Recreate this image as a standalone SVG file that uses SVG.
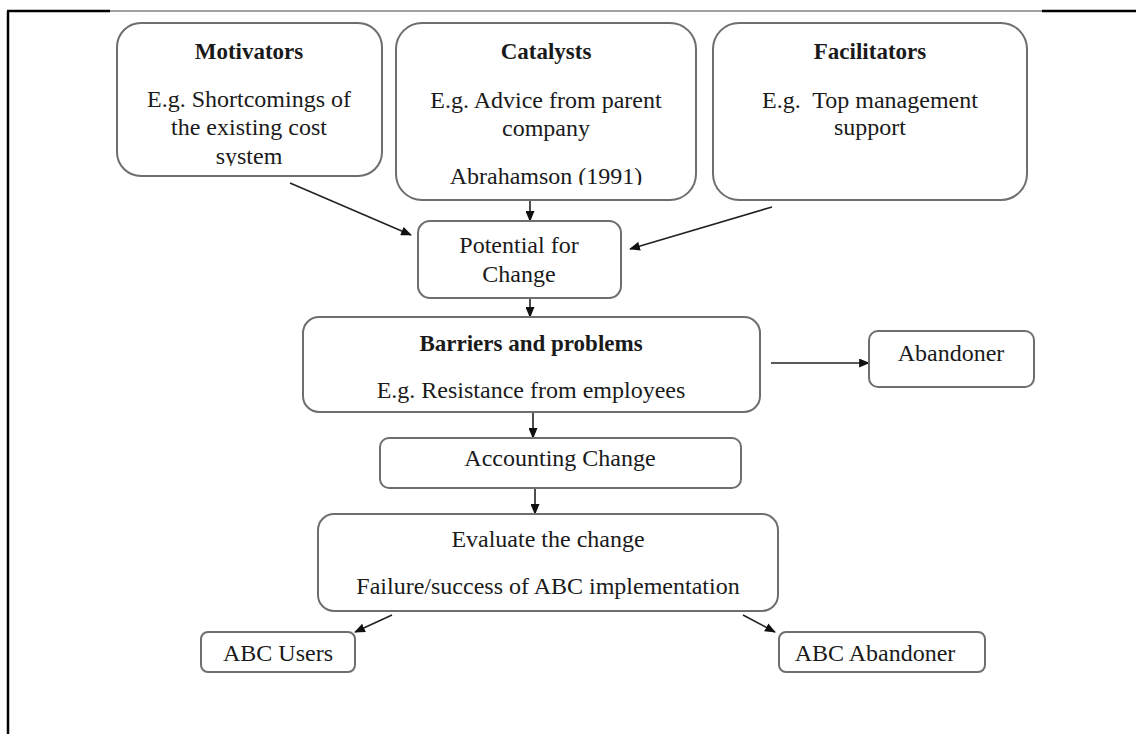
<svg xmlns="http://www.w3.org/2000/svg" width="1136" height="734" viewBox="0 0 1136 734">
  <style>
    .box { fill: #ffffff; stroke: #6e6e6e; stroke-width: 2; }
    .t { font-family: "Liberation Serif", "Times New Roman", serif; font-size: 24px; fill: #1a1a1a; text-anchor: middle; }
    .b { font-weight: bold; font-size: 23px; }
    .arrow { stroke: #222222; stroke-width: 1.6; fill: none; marker-end: url(#head); }
  </style>
  <defs>
    <marker id="head" viewBox="0 0 12 10" refX="11" refY="5" markerWidth="11" markerHeight="9" markerUnits="userSpaceOnUse" orient="auto">
      <path d="M0,0 L12,5 L0,10 z" fill="#111111"/>
    </marker>
    <marker id="headL" viewBox="0 0 12 10" refX="11" refY="5" markerWidth="13" markerHeight="11" markerUnits="userSpaceOnUse" orient="auto">
      <path d="M0,0 L12,5 L0,10 z" fill="#111111"/>
    </marker>
    <clipPath id="clipMot"><rect x="117" y="23" width="265" height="143"/></clipPath>
    <clipPath id="clipCat"><rect x="396" y="23" width="300" height="162"/></clipPath>
  </defs>

  <rect width="1136" height="734" fill="#ffffff"/>

  <!-- page frame -->
  <g id="frame">
    <line x1="8" y1="11" x2="8" y2="734" stroke="#000" stroke-width="2.5"/>
    <line x1="7" y1="11" x2="110" y2="11" stroke="#000" stroke-width="2.5"/>
    <line x1="110" y1="11" x2="1042" y2="11" stroke="#444" stroke-width="1"/>
    <line x1="1042" y1="11" x2="1136" y2="11" stroke="#000" stroke-width="2.5"/>
  </g>

  <!-- connectors -->
  <g id="connectors">
    <line class="arrow" x1="290" y1="183" x2="411" y2="235" marker-end="url(#headL)"/>
    <line class="arrow" x1="530" y1="200" x2="530" y2="221"/>
    <line class="arrow" x1="772" y1="207" x2="630" y2="249" marker-end="url(#headL)"/>
    <line class="arrow" x1="530" y1="298" x2="530" y2="317"/>
    <line class="arrow" x1="533" y1="412" x2="533" y2="438"/>
    <line class="arrow" x1="771" y1="363" x2="869" y2="363"/>
    <line class="arrow" x1="535" y1="488" x2="535" y2="514"/>
    <line class="arrow" x1="392" y1="615" x2="355" y2="632"/>
    <line class="arrow" x1="743" y1="615" x2="775" y2="632"/>
  </g>

  <g id="motivators">
    <rect class="box" x="117" y="23" width="265" height="153" rx="24"/>
    <g clip-path="url(#clipMot)">
      <text class="t b" x="249" y="59">Motivators</text>
      <text class="t" x="249" y="107">E.g. Shortcomings of</text>
      <text class="t" x="249" y="135">the existing cost</text>
      <text class="t" x="249" y="164">system</text>
    </g>
  </g>

  <g id="catalysts">
    <rect class="box" x="396" y="23" width="300" height="177" rx="26"/>
    <g clip-path="url(#clipCat)">
      <text class="t b" x="546" y="59">Catalysts</text>
      <text class="t" x="546" y="108">E.g. Advice from parent</text>
      <text class="t" x="546" y="136">company</text>
      <text class="t" x="546" y="184">Abrahamson (1991)</text>
    </g>
  </g>

  <g id="facilitators">
    <rect class="box" x="713" y="23" width="314" height="177" rx="26"/>
    <text class="t b" x="870" y="59">Facilitators</text>
    <text class="t" x="870" y="108" xml:space="preserve">E.g.  Top management</text>
    <text class="t" x="870" y="135">support</text>
  </g>

  <g id="potential">
    <rect class="box" x="418" y="221" width="203" height="77" rx="12"/>
    <text class="t" x="519" y="253">Potential for</text>
    <text class="t" x="519" y="282">Change</text>
  </g>

  <g id="barriers">
    <rect class="box" x="303" y="317" width="457" height="95" rx="16"/>
    <text class="t b" x="531" y="351">Barriers and problems</text>
    <text class="t" x="531" y="398">E.g. Resistance from employees</text>
  </g>

  <g id="abandoner">
    <rect class="box" x="869" y="331" width="165" height="56" rx="9"/>
    <text class="t" x="951" y="361">Abandoner</text>
  </g>

  <g id="accounting">
    <rect class="box" x="380" y="438" width="361" height="50" rx="9"/>
    <text class="t" x="560" y="466">Accounting Change</text>
  </g>

  <g id="evaluate">
    <rect class="box" x="318" y="514" width="460" height="97" rx="16"/>
    <text class="t" x="548" y="547">Evaluate the change</text>
    <text class="t" x="548" y="594">Failure/success of ABC implementation</text>
  </g>

  <g id="abc-users">
    <rect class="box" x="201" y="632" width="154" height="40" rx="7"/>
    <text class="t" x="278" y="661">ABC Users</text>
  </g>

  <g id="abc-abandoner">
    <rect class="box" x="779" y="632" width="206" height="40" rx="7"/>
    <text class="t" x="875" y="661">ABC Abandoner</text>
  </g>
</svg>
